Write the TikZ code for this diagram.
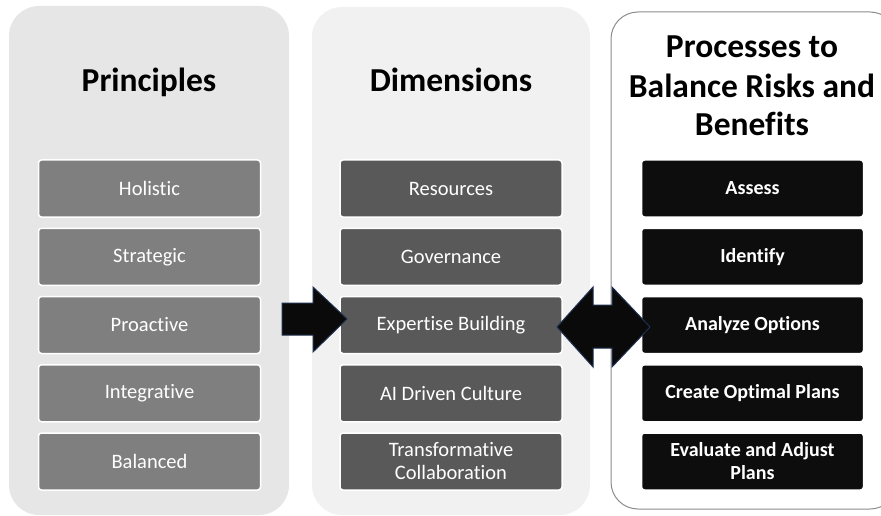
\documentclass[tikz,border=0pt]{standalone}
\usepackage{fontspec}
\setmainfont{Carlito}[Ligatures=NoCommon]
\usetikzlibrary{positioning}
\definecolor{PanelOneClr}{HTML}{E6E6E6}
\definecolor{PanelTwoClr}{HTML}{F1F1F1}
\definecolor{PanelEdgeClr}{HTML}{8C8C8C}
\definecolor{BoxOneClr}{HTML}{7F7F7F}
\definecolor{BoxTwoClr}{HTML}{595959}
\definecolor{BoxThreeClr}{HTML}{0D0D0D}
\definecolor{ArrowClr}{HTML}{0A0A0A}
\definecolor{ArrowEdgeClr}{HTML}{1F3050}

\begin{document}
\begin{tikzpicture}[x=1pt,y=-1pt,
  panel/.style={rounded corners=30pt},
  item/.style={draw=white,line width=1.5pt,rounded corners=3pt,minimum width=222pt,
    minimum height=57pt,inner sep=0pt,text=white,align=center,
    font=\fontsize{20.5}{23}\selectfont},
  title/.style={anchor=base,align=center,font=\fontsize{33.5}{39}\selectfont\bfseries},
  blockarrow/.style={fill=ArrowClr,draw=ArrowEdgeClr,line width=1pt,line join=miter}]
\useasboundingbox (0,0) rectangle (881,516);

\fill[PanelOneClr,panel] (9,6) rectangle (289,515);
\fill[PanelTwoClr,panel] (312,7) rectangle (590,515);
\draw[PanelEdgeClr,line width=1pt,fill=white,rounded corners=27pt] (611,12) rectangle (897,509);

\node[title] (t1) at (149,92) {Principles};
\node[title] (t2) at (451,92) {Dimensions};
\node[title] (t3) at (752,136) {Processes to\\Balance Risks and\\Benefits};

\foreach \txt [count=\i] in {Holistic,Strategic,Proactive,Integrative,Balanced}
  \node[item,fill=BoxOneClr] (p\i) at (149.5,{188.5+68.25*(\i-1)}) {\txt};
\foreach \txt [count=\i] in {Resources,Governance,Expertise Building,AI Driven Culture,{Transformative\\Collaboration}}
  \node[item,fill=BoxTwoClr] (d\i) at (451,{188.5+68.25*(\i-1)}) {\txt};
\foreach \txt [count=\i] in {Assess,Identify,Analyze Options,Create Optimal Plans,{Evaluate and Adjust\\Plans}}
  \node[item,fill=BoxThreeClr,font=\fontsize{20}{23}\selectfont\bfseries] (b\i) at (752.5,{188.5+68.25*(\i-1)}) {\txt};

\draw[blockarrow] (282,303) -- (313,303) -- (313,287) -- (347,319) -- (313,352) -- (313,335) -- (282,335) -- cycle;
\draw[blockarrow] (557,327) -- (593,287) -- (593,305) -- (612,305) -- (612,287) -- (650,327)
  -- (612,367) -- (612,348) -- (593,348) -- (593,367) -- cycle;

\end{tikzpicture}
\end{document}
